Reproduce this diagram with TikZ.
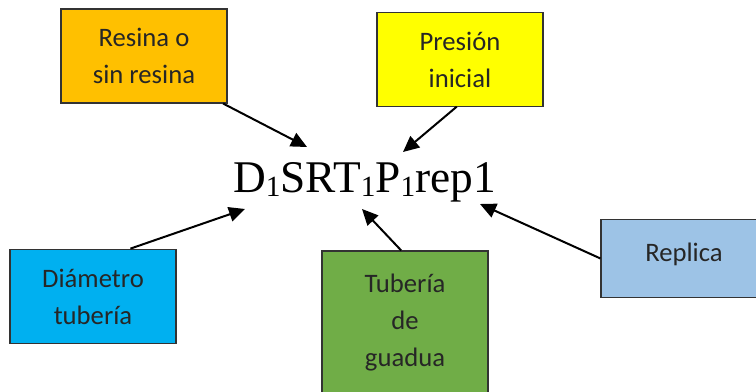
\documentclass[tikz,border=0pt]{standalone}
\usepackage{fontspec}
\setmainfont{Liberation Serif}
\newfontfamily\boxfont{Carlito}
\usetikzlibrary{arrows.meta}
\definecolor{resina}{HTML}{FFC000}
\definecolor{presion}{HTML}{FFFF00}
\definecolor{diametro}{HTML}{00B0F0}
\definecolor{guadua}{HTML}{70AD47}
\definecolor{replica}{HTML}{9DC3E6}
\newcommand{\subidx}[1]{\raisebox{-3pt}{\fontsize{22}{22}\selectfont #1}}
\tikzset{
  factor/.style={draw=black!80, line width=0.8pt, minimum width=124.5pt, inner sep=0pt,
    align=center, text=black!85, font=\boxfont\fontsize{20}{27.75}\selectfont},
  pointer/.style={-{Triangle[length=12pt,width=11pt]}, line width=1.5pt}
}
\begin{document}
\begin{tikzpicture}[x=0.75pt,y=0.75pt]
    \useasboundingbox (0,0) rectangle (756,392);
    % Draw the code of the sample
    \node[anchor=base, inner sep=0pt, font=\fontsize{34}{34}\selectfont] (code) at (364.5,199)
        {D\subidx{1}SRT\subidx{1}P\subidx{1}rep1};
    % Draw the factor boxes
    \node[factor, fill=resina, minimum height=70.5pt] (res) at (144,336) {Resina o\\sin resina};
    \node[factor, fill=presion, minimum height=70pt] (pre) at (460,332.5) {Presión\\inicial};
    \node[factor, fill=diametro, minimum height=71pt] (dia) at (93,95.5) {Diámetro\\tubería};
    \node[factor, fill=guadua, minimum height=108pt] (tub) at (405,69) {Tubería\\de\\guadua};
    \node[factor, fill=replica, minimum height=59pt] (rep) at (684,133.5) {\raisebox{9pt}{Replica}};
    % Points where the arrows meet the code
    \coordinate (tipRes) at (307,245);
    \coordinate (tipPre) at (403,240);
    \coordinate (tipDia) at (245,183);
    \coordinate (tipTub) at (362,183);
    \coordinate (tipRep) at (480,188);
    % Draw the arrows
    \draw[pointer] (res.-31) -- (tipRes);
    \draw[pointer] (pre.-94) -- (tipPre);
    \draw[pointer] (dia.52.6) -- (tipDia);
    \draw[pointer] (tub.93) -- (tipTub);
    \draw[pointer] (rep.west) -- (tipRep);
\end{tikzpicture}
\end{document}
